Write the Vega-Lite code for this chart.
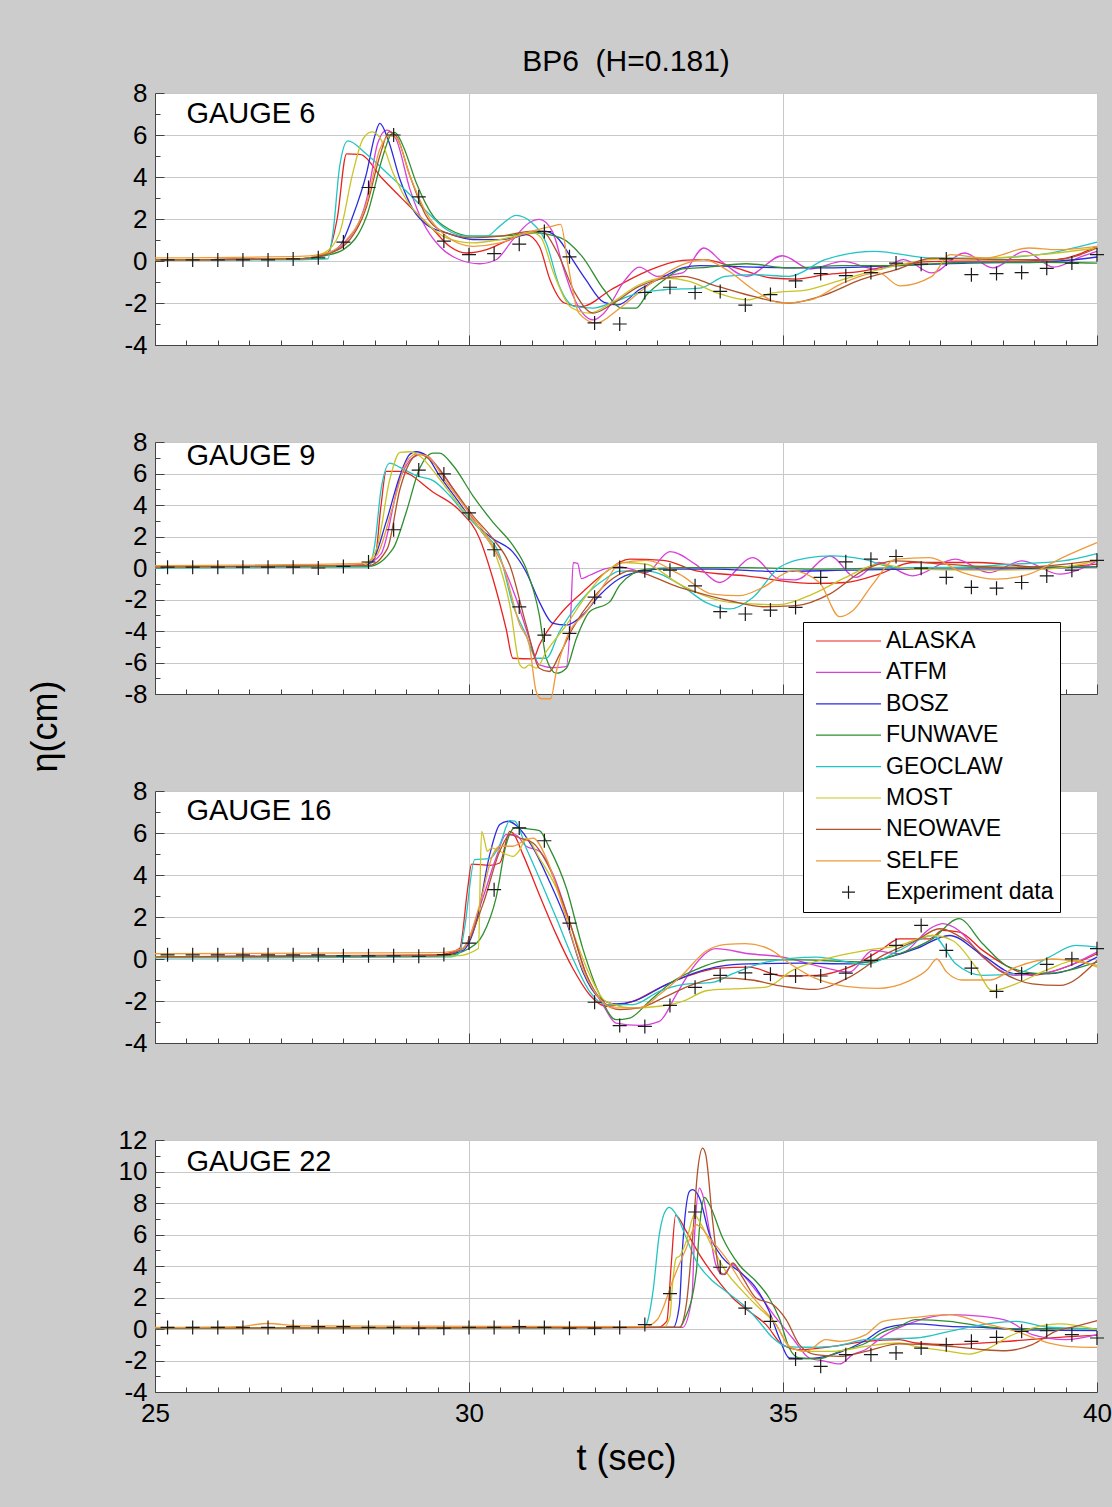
{
"$schema":"https://vega.github.io/schema/vega-lite/v6.json",
"background":"#cccccc",
"padding":{"left":27,"top":47,"right":0,"bottom":32},
"data":{"values":[
{"g":6,"m":"ALASKA","t":25,"v":0.05},{"g":6,"m":"ALASKA","t":27.3,"v":0.1},{"g":6,"m":"ALASKA","t":27.75,"v":0.4},{"g":6,"m":"ALASKA","t":27.9,"v":2.0},{"g":6,"m":"ALASKA","t":28.05,"v":5.1},{"g":6,"m":"ALASKA","t":28.26,"v":5.08},{"g":6,"m":"ALASKA","t":28.63,"v":3.89},{"g":6,"m":"ALASKA","t":29.0,"v":2.77},{"g":6,"m":"ALASKA","t":29.43,"v":1.5},{"g":6,"m":"ALASKA","t":29.69,"v":0.7},{"g":6,"m":"ALASKA","t":29.96,"v":0.38},{"g":6,"m":"ALASKA","t":30.28,"v":0.54},{"g":6,"m":"ALASKA","t":30.59,"v":0.94},{"g":6,"m":"ALASKA","t":30.91,"v":1.26},{"g":6,"m":"ALASKA","t":31.12,"v":0.7},{"g":6,"m":"ALASKA","t":31.29,"v":-0.89},{"g":6,"m":"ALASKA","t":31.52,"v":-2.0},{"g":6,"m":"ALASKA","t":31.8,"v":-2.17},{"g":6,"m":"ALASKA","t":32.26,"v":-1.37},{"g":6,"m":"ALASKA","t":32.83,"v":-0.49},{"g":6,"m":"ALASKA","t":33.4,"v":0.03},{"g":6,"m":"ALASKA","t":33.74,"v":0.07},{"g":6,"m":"ALASKA","t":34.25,"v":-0.33},{"g":6,"m":"ALASKA","t":34.82,"v":-0.81},{"g":6,"m":"ALASKA","t":35.21,"v":-0.86},{"g":6,"m":"ALASKA","t":35.67,"v":-0.65},{"g":6,"m":"ALASKA","t":36.24,"v":-0.49},{"g":6,"m":"ALASKA","t":36.81,"v":-0.17},{"g":6,"m":"ALASKA","t":37.66,"v":-0.01},{"g":6,"m":"ALASKA","t":38.51,"v":-0.01},{"g":6,"m":"ALASKA","t":39.36,"v":0.07},{"g":6,"m":"ALASKA","t":40,"v":0.7},
{"g":6,"m":"ATFM","t":25,"v":0.05},{"g":6,"m":"ATFM","t":27.3,"v":0.1},{"g":6,"m":"ATFM","t":27.8,"v":0.4},{"g":6,"m":"ATFM","t":28.0,"v":0.8},{"g":6,"m":"ATFM","t":28.37,"v":2.93},{"g":6,"m":"ATFM","t":28.55,"v":5.64},{"g":6,"m":"ATFM","t":28.69,"v":6.23},{"g":6,"m":"ATFM","t":28.84,"v":5.8},{"g":6,"m":"ATFM","t":29.06,"v":3.41},{"g":6,"m":"ATFM","t":29.27,"v":1.82},{"g":6,"m":"ATFM","t":29.53,"v":0.7},{"g":6,"m":"ATFM","t":29.85,"v":0.06},{"g":6,"m":"ATFM","t":30.17,"v":-0.13},{"g":6,"m":"ATFM","t":30.43,"v":0.06},{"g":6,"m":"ATFM","t":30.7,"v":1.02},{"g":6,"m":"ATFM","t":30.96,"v":1.82},{"g":6,"m":"ATFM","t":31.12,"v":1.98},{"g":6,"m":"ATFM","t":31.33,"v":1.4},{"g":6,"m":"ATFM","t":31.5,"v":-0.3},{"g":6,"m":"ATFM","t":31.64,"v":-1.53},{"g":6,"m":"ATFM","t":31.98,"v":-2.8},{"g":6,"m":"ATFM","t":32.15,"v":-2.48},{"g":6,"m":"ATFM","t":32.49,"v":-0.89},{"g":6,"m":"ATFM","t":32.71,"v":-0.29},{"g":6,"m":"ATFM","t":33.0,"v":-0.73},{"g":6,"m":"ATFM","t":33.4,"v":-0.57},{"g":6,"m":"ATFM","t":33.74,"v":0.62},{"g":6,"m":"ATFM","t":34.02,"v":-0.02},{"g":6,"m":"ATFM","t":34.42,"v":-0.73},{"g":6,"m":"ATFM","t":34.99,"v":0.25},{"g":6,"m":"ATFM","t":35.44,"v":-0.38},{"g":6,"m":"ATFM","t":35.95,"v":-0.02},{"g":6,"m":"ATFM","t":36.52,"v":-0.41},{"g":6,"m":"ATFM","t":36.92,"v":0.07},{"g":6,"m":"ATFM","t":37.37,"v":-0.57},{"g":6,"m":"ATFM","t":37.89,"v":0.38},{"g":6,"m":"ATFM","t":38.34,"v":-0.33},{"g":6,"m":"ATFM","t":38.85,"v":0.46},{"g":6,"m":"ATFM","t":39.31,"v":-0.29},{"g":6,"m":"ATFM","t":39.76,"v":0.22},{"g":6,"m":"ATFM","t":40,"v":0.46},
{"g":6,"m":"BOSZ","t":25,"v":0.05},{"g":6,"m":"BOSZ","t":27.3,"v":0.1},{"g":6,"m":"BOSZ","t":27.7,"v":0.3},{"g":6,"m":"BOSZ","t":27.94,"v":0.7},{"g":6,"m":"BOSZ","t":28.15,"v":2.14},{"g":6,"m":"BOSZ","t":28.37,"v":4.2},{"g":6,"m":"BOSZ","t":28.5,"v":5.96},{"g":6,"m":"BOSZ","t":28.58,"v":6.55},{"g":6,"m":"BOSZ","t":28.71,"v":5.8},{"g":6,"m":"BOSZ","t":28.9,"v":3.89},{"g":6,"m":"BOSZ","t":29.11,"v":2.45},{"g":6,"m":"BOSZ","t":29.32,"v":1.74},{"g":6,"m":"BOSZ","t":29.64,"v":1.34},{"g":6,"m":"BOSZ","t":30.06,"v":1.02},{"g":6,"m":"BOSZ","t":30.49,"v":1.02},{"g":6,"m":"BOSZ","t":31.02,"v":1.34},{"g":6,"m":"BOSZ","t":31.2,"v":1.42},{"g":6,"m":"BOSZ","t":31.44,"v":1.0},{"g":6,"m":"BOSZ","t":31.58,"v":0.38},{"g":6,"m":"BOSZ","t":31.86,"v":-0.89},{"g":6,"m":"BOSZ","t":32.15,"v":-1.97},{"g":6,"m":"BOSZ","t":32.37,"v":-2.09},{"g":6,"m":"BOSZ","t":32.71,"v":-1.37},{"g":6,"m":"BOSZ","t":33.11,"v":-0.73},{"g":6,"m":"BOSZ","t":33.4,"v":-0.33},{"g":6,"m":"BOSZ","t":33.68,"v":-0.22},{"g":6,"m":"BOSZ","t":34.53,"v":-0.29},{"g":6,"m":"BOSZ","t":35.39,"v":-0.33},{"g":6,"m":"BOSZ","t":36.24,"v":-0.29},{"g":6,"m":"BOSZ","t":36.81,"v":-0.22},{"g":6,"m":"BOSZ","t":37.94,"v":-0.1},{"g":6,"m":"BOSZ","t":39.08,"v":-0.06},{"g":6,"m":"BOSZ","t":40,"v":0.19},
{"g":6,"m":"FUNWAVE","t":25,"v":0.05},{"g":6,"m":"FUNWAVE","t":27.3,"v":0.1},{"g":6,"m":"FUNWAVE","t":27.7,"v":0.25},{"g":6,"m":"FUNWAVE","t":28.0,"v":0.54},{"g":6,"m":"FUNWAVE","t":28.37,"v":2.14},{"g":6,"m":"FUNWAVE","t":28.63,"v":5.0},{"g":6,"m":"FUNWAVE","t":28.76,"v":6.04},{"g":6,"m":"FUNWAVE","t":28.82,"v":6.12},{"g":6,"m":"FUNWAVE","t":28.95,"v":5.48},{"g":6,"m":"FUNWAVE","t":29.16,"v":3.73},{"g":6,"m":"FUNWAVE","t":29.43,"v":2.14},{"g":6,"m":"FUNWAVE","t":29.69,"v":1.5},{"g":6,"m":"FUNWAVE","t":30.06,"v":1.18},{"g":6,"m":"FUNWAVE","t":30.49,"v":1.18},{"g":6,"m":"FUNWAVE","t":31.02,"v":1.34},{"g":6,"m":"FUNWAVE","t":31.46,"v":1.1},{"g":6,"m":"FUNWAVE","t":31.8,"v":0.22},{"g":6,"m":"FUNWAVE","t":32.15,"v":-1.37},{"g":6,"m":"FUNWAVE","t":32.43,"v":-2.24},{"g":6,"m":"FUNWAVE","t":32.66,"v":-2.24},{"g":6,"m":"FUNWAVE","t":32.83,"v":-1.61},{"g":6,"m":"FUNWAVE","t":33.11,"v":-0.89},{"g":6,"m":"FUNWAVE","t":33.4,"v":-0.38},{"g":6,"m":"FUNWAVE","t":33.79,"v":-0.3},{"g":6,"m":"FUNWAVE","t":34.42,"v":-0.13},{"g":6,"m":"FUNWAVE","t":35.1,"v":-0.33},{"g":6,"m":"FUNWAVE","t":35.95,"v":-0.22},{"g":6,"m":"FUNWAVE","t":36.81,"v":-0.22},{"g":6,"m":"FUNWAVE","t":37.94,"v":-0.06},{"g":6,"m":"FUNWAVE","t":39.08,"v":-0.06},{"g":6,"m":"FUNWAVE","t":40,"v":-0.1},
{"g":6,"m":"GEOCLAW","t":25,"v":0.05},{"g":6,"m":"GEOCLAW","t":27.3,"v":0.06},{"g":6,"m":"GEOCLAW","t":27.75,"v":0.1},{"g":6,"m":"GEOCLAW","t":27.84,"v":1.5},{"g":6,"m":"GEOCLAW","t":27.94,"v":4.5},{"g":6,"m":"GEOCLAW","t":28.07,"v":5.72},{"g":6,"m":"GEOCLAW","t":28.37,"v":5.08},{"g":6,"m":"GEOCLAW","t":28.69,"v":4.2},{"g":6,"m":"GEOCLAW","t":29.0,"v":3.33},{"g":6,"m":"GEOCLAW","t":29.32,"v":2.37},{"g":6,"m":"GEOCLAW","t":29.64,"v":1.5},{"g":6,"m":"GEOCLAW","t":29.96,"v":1.18},{"g":6,"m":"GEOCLAW","t":30.28,"v":1.18},{"g":6,"m":"GEOCLAW","t":30.49,"v":1.66},{"g":6,"m":"GEOCLAW","t":30.75,"v":2.17},{"g":6,"m":"GEOCLAW","t":31.0,"v":1.82},{"g":6,"m":"GEOCLAW","t":31.23,"v":0.86},{"g":6,"m":"GEOCLAW","t":31.44,"v":-1.2},{"g":6,"m":"GEOCLAW","t":31.69,"v":-2.17},{"g":6,"m":"GEOCLAW","t":31.98,"v":-2.24},{"g":6,"m":"GEOCLAW","t":32.26,"v":-2.0},{"g":6,"m":"GEOCLAW","t":32.7,"v":-1.53},{"g":6,"m":"GEOCLAW","t":33.11,"v":-1.37},{"g":6,"m":"GEOCLAW","t":33.68,"v":-1.29},{"g":6,"m":"GEOCLAW","t":34.08,"v":-0.73},{"g":6,"m":"GEOCLAW","t":34.53,"v":-0.65},{"g":6,"m":"GEOCLAW","t":35.1,"v":-0.73},{"g":6,"m":"GEOCLAW","t":35.67,"v":0.06},{"g":6,"m":"GEOCLAW","t":36.46,"v":0.46},{"g":6,"m":"GEOCLAW","t":37.37,"v":0.14},{"g":6,"m":"GEOCLAW","t":38.23,"v":0.14},{"g":6,"m":"GEOCLAW","t":39.08,"v":0.3},{"g":6,"m":"GEOCLAW","t":40,"v":0.9},
{"g":6,"m":"MOST","t":25,"v":0.05},{"g":6,"m":"MOST","t":27.3,"v":0.1},{"g":6,"m":"MOST","t":27.7,"v":0.4},{"g":6,"m":"MOST","t":27.94,"v":1.34},{"g":6,"m":"MOST","t":28.15,"v":4.2},{"g":6,"m":"MOST","t":28.31,"v":5.8},{"g":6,"m":"MOST","t":28.45,"v":6.15},{"g":6,"m":"MOST","t":28.58,"v":5.88},{"g":6,"m":"MOST","t":28.79,"v":4.2},{"g":6,"m":"MOST","t":29.0,"v":2.93},{"g":6,"m":"MOST","t":29.32,"v":1.82},{"g":6,"m":"MOST","t":29.64,"v":1.1},{"g":6,"m":"MOST","t":30.06,"v":0.86},{"g":6,"m":"MOST","t":30.49,"v":1.02},{"g":6,"m":"MOST","t":31.02,"v":1.34},{"g":6,"m":"MOST","t":31.15,"v":1.1},{"g":6,"m":"MOST","t":31.35,"v":-0.6},{"g":6,"m":"MOST","t":31.64,"v":-2.24},{"g":6,"m":"MOST","t":31.92,"v":-2.48},{"g":6,"m":"MOST","t":32.26,"v":-2.0},{"g":6,"m":"MOST","t":32.71,"v":-1.13},{"g":6,"m":"MOST","t":33.11,"v":-0.81},{"g":6,"m":"MOST","t":33.51,"v":-0.97},{"g":6,"m":"MOST","t":33.96,"v":-1.53},{"g":6,"m":"MOST","t":34.42,"v":-1.85},{"g":6,"m":"MOST","t":34.82,"v":-1.53},{"g":6,"m":"MOST","t":35.39,"v":-1.37},{"g":6,"m":"MOST","t":35.95,"v":-0.89},{"g":6,"m":"MOST","t":36.52,"v":-0.41},{"g":6,"m":"MOST","t":37.37,"v":0.07},{"g":6,"m":"MOST","t":38.23,"v":0.14},{"g":6,"m":"MOST","t":39.08,"v":0.3},{"g":6,"m":"MOST","t":40,"v":0.62},
{"g":6,"m":"NEOWAVE","t":25,"v":0.05},{"g":6,"m":"NEOWAVE","t":27.3,"v":0.1},{"g":6,"m":"NEOWAVE","t":27.7,"v":0.3},{"g":6,"m":"NEOWAVE","t":28.0,"v":0.7},{"g":6,"m":"NEOWAVE","t":28.37,"v":2.61},{"g":6,"m":"NEOWAVE","t":28.58,"v":5.0},{"g":6,"m":"NEOWAVE","t":28.73,"v":6.15},{"g":6,"m":"NEOWAVE","t":28.84,"v":5.96},{"g":6,"m":"NEOWAVE","t":29.06,"v":4.05},{"g":6,"m":"NEOWAVE","t":29.32,"v":2.14},{"g":6,"m":"NEOWAVE","t":29.64,"v":1.34},{"g":6,"m":"NEOWAVE","t":30.06,"v":1.1},{"g":6,"m":"NEOWAVE","t":30.49,"v":1.18},{"g":6,"m":"NEOWAVE","t":31.02,"v":1.42},{"g":6,"m":"NEOWAVE","t":31.15,"v":1.42},{"g":6,"m":"NEOWAVE","t":31.41,"v":0.38},{"g":6,"m":"NEOWAVE","t":31.69,"v":-1.53},{"g":6,"m":"NEOWAVE","t":31.98,"v":-2.48},{"g":6,"m":"NEOWAVE","t":32.26,"v":-2.09},{"g":6,"m":"NEOWAVE","t":32.71,"v":-1.21},{"g":6,"m":"NEOWAVE","t":33.4,"v":-0.73},{"g":6,"m":"NEOWAVE","t":33.96,"v":-1.21},{"g":6,"m":"NEOWAVE","t":34.53,"v":-1.69},{"g":6,"m":"NEOWAVE","t":35.1,"v":-2.0},{"g":6,"m":"NEOWAVE","t":35.67,"v":-1.61},{"g":6,"m":"NEOWAVE","t":36.24,"v":-0.89},{"g":6,"m":"NEOWAVE","t":36.81,"v":-0.41},{"g":6,"m":"NEOWAVE","t":37.37,"v":0.14},{"g":6,"m":"NEOWAVE","t":38.51,"v":0.07},{"g":6,"m":"NEOWAVE","t":39.36,"v":0.07},{"g":6,"m":"NEOWAVE","t":40,"v":0.62},
{"g":6,"m":"SELFE","t":25,"v":0.15},{"g":6,"m":"SELFE","t":27.3,"v":0.22},{"g":6,"m":"SELFE","t":27.7,"v":0.35},{"g":6,"m":"SELFE","t":28.0,"v":0.86},{"g":6,"m":"SELFE","t":28.37,"v":2.77},{"g":6,"m":"SELFE","t":28.58,"v":5.32},{"g":6,"m":"SELFE","t":28.74,"v":5.96},{"g":6,"m":"SELFE","t":28.84,"v":5.88},{"g":6,"m":"SELFE","t":29.06,"v":4.05},{"g":6,"m":"SELFE","t":29.32,"v":2.3},{"g":6,"m":"SELFE","t":29.64,"v":1.18},{"g":6,"m":"SELFE","t":30.06,"v":0.7},{"g":6,"m":"SELFE","t":30.49,"v":0.86},{"g":6,"m":"SELFE","t":30.91,"v":1.34},{"g":6,"m":"SELFE","t":31.33,"v":1.66},{"g":6,"m":"SELFE","t":31.46,"v":1.74},{"g":6,"m":"SELFE","t":31.58,"v":-0.25},{"g":6,"m":"SELFE","t":31.75,"v":-2.48},{"g":6,"m":"SELFE","t":32.03,"v":-2.96},{"g":6,"m":"SELFE","t":32.37,"v":-2.32},{"g":6,"m":"SELFE","t":32.83,"v":-1.21},{"g":6,"m":"SELFE","t":33.4,"v":-0.17},{"g":6,"m":"SELFE","t":33.74,"v":0.07},{"g":6,"m":"SELFE","t":34.14,"v":-0.49},{"g":6,"m":"SELFE","t":34.53,"v":-1.37},{"g":6,"m":"SELFE","t":34.99,"v":-2.0},{"g":6,"m":"SELFE","t":35.44,"v":-1.85},{"g":6,"m":"SELFE","t":35.95,"v":-1.05},{"g":6,"m":"SELFE","t":36.52,"v":-0.57},{"g":6,"m":"SELFE","t":36.86,"v":-1.18},{"g":6,"m":"SELFE","t":37.37,"v":-0.73},{"g":6,"m":"SELFE","t":37.66,"v":0.3},{"g":6,"m":"SELFE","t":38.23,"v":0.14},{"g":6,"m":"SELFE","t":38.91,"v":0.62},{"g":6,"m":"SELFE","t":39.36,"v":0.54},{"g":6,"m":"SELFE","t":40,"v":0.7},
{"g":6,"m":"Experiment data","t":25.2,"v":0.05},{"g":6,"m":"Experiment data","t":25.6,"v":0.05},{"g":6,"m":"Experiment data","t":26.0,"v":0.05},{"g":6,"m":"Experiment data","t":26.4,"v":0.05},{"g":6,"m":"Experiment data","t":26.8,"v":0.05},{"g":6,"m":"Experiment data","t":27.2,"v":0.1},{"g":6,"m":"Experiment data","t":27.6,"v":0.15},{"g":6,"m":"Experiment data","t":28.0,"v":0.9},{"g":6,"m":"Experiment data","t":28.4,"v":3.5},{"g":6,"m":"Experiment data","t":28.8,"v":6.0},{"g":6,"m":"Experiment data","t":29.2,"v":3.05},{"g":6,"m":"Experiment data","t":29.6,"v":0.95},{"g":6,"m":"Experiment data","t":30.0,"v":0.3},{"g":6,"m":"Experiment data","t":30.4,"v":0.35},{"g":6,"m":"Experiment data","t":30.8,"v":0.8},{"g":6,"m":"Experiment data","t":31.2,"v":1.4},{"g":6,"m":"Experiment data","t":31.6,"v":0.2},{"g":6,"m":"Experiment data","t":32.0,"v":-2.95},{"g":6,"m":"Experiment data","t":32.4,"v":-3.0},{"g":6,"m":"Experiment data","t":32.8,"v":-1.5},{"g":6,"m":"Experiment data","t":33.2,"v":-1.25},{"g":6,"m":"Experiment data","t":33.6,"v":-1.5},{"g":6,"m":"Experiment data","t":34.0,"v":-1.45},{"g":6,"m":"Experiment data","t":34.4,"v":-2.1},{"g":6,"m":"Experiment data","t":34.8,"v":-1.6},{"g":6,"m":"Experiment data","t":35.2,"v":-0.95},{"g":6,"m":"Experiment data","t":35.6,"v":-0.6},{"g":6,"m":"Experiment data","t":36.0,"v":-0.7},{"g":6,"m":"Experiment data","t":36.4,"v":-0.55},{"g":6,"m":"Experiment data","t":36.8,"v":-0.1},{"g":6,"m":"Experiment data","t":37.2,"v":-0.15},{"g":6,"m":"Experiment data","t":37.6,"v":0.1},{"g":6,"m":"Experiment data","t":38.0,"v":-0.65},{"g":6,"m":"Experiment data","t":38.4,"v":-0.6},{"g":6,"m":"Experiment data","t":38.8,"v":-0.55},{"g":6,"m":"Experiment data","t":39.2,"v":-0.35},{"g":6,"m":"Experiment data","t":39.6,"v":-0.1},{"g":6,"m":"Experiment data","t":40.0,"v":0.3},

{"g":9,"m":"ALASKA","t":25,"v":0.05},{"g":9,"m":"ALASKA","t":28.3,"v":0.2},{"g":9,"m":"ALASKA","t":28.5,"v":0.6},{"g":9,"m":"ALASKA","t":28.6,"v":4.0},{"g":9,"m":"ALASKA","t":28.68,"v":6.14},{"g":9,"m":"ALASKA","t":28.9,"v":6.14},{"g":9,"m":"ALASKA","t":29.43,"v":4.81},{"g":9,"m":"ALASKA","t":29.85,"v":3.65},{"g":9,"m":"ALASKA","t":30.17,"v":1.86},{"g":9,"m":"ALASKA","t":30.38,"v":-0.67},{"g":9,"m":"ALASKA","t":30.59,"v":-3.84},{"g":9,"m":"ALASKA","t":30.7,"v":-5.73},{"g":9,"m":"ALASKA","t":31.02,"v":-5.77},{"g":9,"m":"ALASKA","t":31.12,"v":-4.89},{"g":9,"m":"ALASKA","t":31.44,"v":-2.99},{"g":9,"m":"ALASKA","t":31.81,"v":-1.52},{"g":9,"m":"ALASKA","t":32.18,"v":-0.25},{"g":9,"m":"ALASKA","t":32.56,"v":0.56},{"g":9,"m":"ALASKA","t":33.09,"v":0.49},{"g":9,"m":"ALASKA","t":33.62,"v":-0.18},{"g":9,"m":"ALASKA","t":34.41,"v":-0.5},{"g":9,"m":"ALASKA","t":35.47,"v":-0.98},{"g":9,"m":"ALASKA","t":36.0,"v":-0.92},{"g":9,"m":"ALASKA","t":36.53,"v":-0.39},{"g":9,"m":"ALASKA","t":37.06,"v":0.35},{"g":9,"m":"ALASKA","t":38.12,"v":0.35},{"g":9,"m":"ALASKA","t":39.18,"v":0.03},{"g":9,"m":"ALASKA","t":40,"v":0.24},
{"g":9,"m":"ATFM","t":25,"v":0.05},{"g":9,"m":"ATFM","t":28.3,"v":0.15},{"g":9,"m":"ATFM","t":28.6,"v":0.9},{"g":9,"m":"ATFM","t":28.9,"v":5.65},{"g":9,"m":"ATFM","t":29.1,"v":7.0},{"g":9,"m":"ATFM","t":29.27,"v":7.23},{"g":9,"m":"ATFM","t":29.53,"v":6.28},{"g":9,"m":"ATFM","t":29.85,"v":4.39},{"g":9,"m":"ATFM","t":30.17,"v":2.49},{"g":9,"m":"ATFM","t":30.49,"v":0.59},{"g":9,"m":"ATFM","t":30.75,"v":-1.94},{"g":9,"m":"ATFM","t":30.96,"v":-4.47},{"g":9,"m":"ATFM","t":31.12,"v":-6.15},{"g":9,"m":"ATFM","t":31.34,"v":-6.32},{"g":9,"m":"ATFM","t":31.55,"v":-6.26},{"g":9,"m":"ATFM","t":31.62,"v":-3.0},{"g":9,"m":"ATFM","t":31.66,"v":0.34},{"g":9,"m":"ATFM","t":31.73,"v":0.3},{"g":9,"m":"ATFM","t":31.79,"v":-0.67},{"g":9,"m":"ATFM","t":31.92,"v":-0.46},{"g":9,"m":"ATFM","t":32.18,"v":-0.04},{"g":9,"m":"ATFM","t":32.4,"v":0.07},{"g":9,"m":"ATFM","t":32.82,"v":-0.29},{"g":9,"m":"ATFM","t":33.2,"v":1.04},{"g":9,"m":"ATFM","t":33.62,"v":0.2},{"g":9,"m":"ATFM","t":33.99,"v":-0.92},{"g":9,"m":"ATFM","t":34.52,"v":0.66},{"g":9,"m":"ATFM","t":34.94,"v":-0.71},{"g":9,"m":"ATFM","t":35.2,"v":-0.75},{"g":9,"m":"ATFM","t":35.75,"v":0.75},{"g":9,"m":"ATFM","t":36.16,"v":-0.6},{"g":9,"m":"ATFM","t":36.53,"v":0.35},{"g":9,"m":"ATFM","t":37.06,"v":-0.5},{"g":9,"m":"ATFM","t":37.75,"v":0.56},{"g":9,"m":"ATFM","t":38.28,"v":-0.29},{"g":9,"m":"ATFM","t":38.81,"v":0.45},{"g":9,"m":"ATFM","t":39.4,"v":-0.39},{"g":9,"m":"ATFM","t":40,"v":0.45},
{"g":9,"m":"BOSZ","t":25,"v":0.05},{"g":9,"m":"BOSZ","t":28.3,"v":0.15},{"g":9,"m":"BOSZ","t":28.45,"v":0.38},{"g":9,"m":"BOSZ","t":28.68,"v":2.91},{"g":9,"m":"BOSZ","t":28.9,"v":5.86},{"g":9,"m":"BOSZ","t":29.06,"v":7.23},{"g":9,"m":"BOSZ","t":29.16,"v":7.38},{"g":9,"m":"BOSZ","t":29.32,"v":7.13},{"g":9,"m":"BOSZ","t":29.53,"v":5.86},{"g":9,"m":"BOSZ","t":29.8,"v":4.39},{"g":9,"m":"BOSZ","t":30.12,"v":2.7},{"g":9,"m":"BOSZ","t":30.38,"v":1.86},{"g":9,"m":"BOSZ","t":30.7,"v":1.01},{"g":9,"m":"BOSZ","t":30.91,"v":-0.25},{"g":9,"m":"BOSZ","t":31.12,"v":-2.15},{"g":9,"m":"BOSZ","t":31.34,"v":-3.52},{"g":9,"m":"BOSZ","t":31.55,"v":-3.62},{"g":9,"m":"BOSZ","t":31.81,"v":-2.99},{"g":9,"m":"BOSZ","t":32.08,"v":-1.73},{"g":9,"m":"BOSZ","t":32.4,"v":-0.67},{"g":9,"m":"BOSZ","t":32.56,"v":-0.39},{"g":9,"m":"BOSZ","t":33.09,"v":-0.07},{"g":9,"m":"BOSZ","t":33.88,"v":-0.07},{"g":9,"m":"BOSZ","t":34.94,"v":-0.22},{"g":9,"m":"BOSZ","t":36.0,"v":-0.14},{"g":9,"m":"BOSZ","t":37.06,"v":-0.07},{"g":9,"m":"BOSZ","t":38.12,"v":-0.07},{"g":9,"m":"BOSZ","t":40,"v":0.07},
{"g":9,"m":"FUNWAVE","t":25,"v":0.05},{"g":9,"m":"FUNWAVE","t":28.4,"v":0.1},{"g":9,"m":"FUNWAVE","t":28.79,"v":1.23},{"g":9,"m":"FUNWAVE","t":29.0,"v":3.54},{"g":9,"m":"FUNWAVE","t":29.21,"v":6.28},{"g":9,"m":"FUNWAVE","t":29.43,"v":7.3},{"g":9,"m":"FUNWAVE","t":29.53,"v":7.3},{"g":9,"m":"FUNWAVE","t":29.75,"v":6.49},{"g":9,"m":"FUNWAVE","t":30.06,"v":4.6},{"g":9,"m":"FUNWAVE","t":30.38,"v":2.91},{"g":9,"m":"FUNWAVE","t":30.7,"v":1.43},{"g":9,"m":"FUNWAVE","t":30.91,"v":-0.04},{"g":9,"m":"FUNWAVE","t":31.12,"v":-2.99},{"g":9,"m":"FUNWAVE","t":31.23,"v":-5.73},{"g":9,"m":"FUNWAVE","t":31.39,"v":-6.68},{"g":9,"m":"FUNWAVE","t":31.55,"v":-6.36},{"g":9,"m":"FUNWAVE","t":31.71,"v":-4.47},{"g":9,"m":"FUNWAVE","t":31.92,"v":-2.78},{"g":9,"m":"FUNWAVE","t":32.24,"v":-2.15},{"g":9,"m":"FUNWAVE","t":32.4,"v":-1.09},{"g":9,"m":"FUNWAVE","t":32.82,"v":-0.07},{"g":9,"m":"FUNWAVE","t":33.35,"v":0.03},{"g":9,"m":"FUNWAVE","t":34.41,"v":0.03},{"g":9,"m":"FUNWAVE","t":35.47,"v":-0.07},{"g":9,"m":"FUNWAVE","t":37.0,"v":0.03},{"g":9,"m":"FUNWAVE","t":40,"v":0.07},
{"g":9,"m":"GEOCLAW","t":25,"v":0.0},{"g":9,"m":"GEOCLAW","t":28.4,"v":0.05},{"g":9,"m":"GEOCLAW","t":28.5,"v":1.5},{"g":9,"m":"GEOCLAW","t":28.6,"v":5.0},{"g":9,"m":"GEOCLAW","t":28.74,"v":6.66},{"g":9,"m":"GEOCLAW","t":28.9,"v":6.39},{"g":9,"m":"GEOCLAW","t":29.16,"v":5.86},{"g":9,"m":"GEOCLAW","t":29.43,"v":5.55},{"g":9,"m":"GEOCLAW","t":29.69,"v":4.6},{"g":9,"m":"GEOCLAW","t":29.96,"v":3.33},{"g":9,"m":"GEOCLAW","t":30.22,"v":2.28},{"g":9,"m":"GEOCLAW","t":30.49,"v":0.8},{"g":9,"m":"GEOCLAW","t":30.7,"v":-2.36},{"g":9,"m":"GEOCLAW","t":30.91,"v":-4.26},{"g":9,"m":"GEOCLAW","t":31.07,"v":-5.73},{"g":9,"m":"GEOCLAW","t":31.23,"v":-5.73},{"g":9,"m":"GEOCLAW","t":31.44,"v":-4.05},{"g":9,"m":"GEOCLAW","t":31.81,"v":-1.94},{"g":9,"m":"GEOCLAW","t":32.18,"v":-0.67},{"g":9,"m":"GEOCLAW","t":32.4,"v":-0.2},{"g":9,"m":"GEOCLAW","t":32.82,"v":-0.18},{"g":9,"m":"GEOCLAW","t":33.35,"v":-1.02},{"g":9,"m":"GEOCLAW","t":33.77,"v":-2.18},{"g":9,"m":"GEOCLAW","t":34.15,"v":-2.6},{"g":9,"m":"GEOCLAW","t":34.52,"v":-1.87},{"g":9,"m":"GEOCLAW","t":34.94,"v":0.03},{"g":9,"m":"GEOCLAW","t":35.37,"v":0.62},{"g":9,"m":"GEOCLAW","t":35.79,"v":0.77},{"g":9,"m":"GEOCLAW","t":36.27,"v":0.56},{"g":9,"m":"GEOCLAW","t":36.8,"v":0.03},{"g":9,"m":"GEOCLAW","t":37.59,"v":0.03},{"g":9,"m":"GEOCLAW","t":38.65,"v":0.24},{"g":9,"m":"GEOCLAW","t":39.45,"v":0.45},{"g":9,"m":"GEOCLAW","t":40,"v":0.92},
{"g":9,"m":"MOST","t":25,"v":0.05},{"g":9,"m":"MOST","t":28.3,"v":0.15},{"g":9,"m":"MOST","t":28.53,"v":1.23},{"g":9,"m":"MOST","t":28.74,"v":5.65},{"g":9,"m":"MOST","t":28.9,"v":7.34},{"g":9,"m":"MOST","t":29.06,"v":7.38},{"g":9,"m":"MOST","t":29.21,"v":7.13},{"g":9,"m":"MOST","t":29.53,"v":5.65},{"g":9,"m":"MOST","t":29.85,"v":3.96},{"g":9,"m":"MOST","t":30.17,"v":2.49},{"g":9,"m":"MOST","t":30.43,"v":0.8},{"g":9,"m":"MOST","t":30.65,"v":-2.36},{"g":9,"m":"MOST","t":30.81,"v":-6.15},{"g":9,"m":"MOST","t":30.88,"v":-6.36},{"g":9,"m":"MOST","t":30.96,"v":-6.15},{"g":9,"m":"MOST","t":31.07,"v":-6.36},{"g":9,"m":"MOST","t":31.23,"v":-5.31},{"g":9,"m":"MOST","t":31.55,"v":-3.62},{"g":9,"m":"MOST","t":31.87,"v":-1.73},{"g":9,"m":"MOST","t":32.18,"v":-0.25},{"g":9,"m":"MOST","t":32.45,"v":0.35},{"g":9,"m":"MOST","t":32.82,"v":0.24},{"g":9,"m":"MOST","t":33.35,"v":-1.02},{"g":9,"m":"MOST","t":34.15,"v":-2.18},{"g":9,"m":"MOST","t":34.94,"v":-2.33},{"g":9,"m":"MOST","t":35.47,"v":-1.66},{"g":9,"m":"MOST","t":36.0,"v":-0.6},{"g":9,"m":"MOST","t":36.53,"v":0.24},{"g":9,"m":"MOST","t":37.06,"v":-0.07},{"g":9,"m":"MOST","t":38.12,"v":-0.14},{"g":9,"m":"MOST","t":39.18,"v":-0.07},{"g":9,"m":"MOST","t":40,"v":0.45},
{"g":9,"m":"NEOWAVE","t":25,"v":0.05},{"g":9,"m":"NEOWAVE","t":28.4,"v":0.15},{"g":9,"m":"NEOWAVE","t":28.7,"v":1.23},{"g":9,"m":"NEOWAVE","t":28.9,"v":5.0},{"g":9,"m":"NEOWAVE","t":29.11,"v":7.02},{"g":9,"m":"NEOWAVE","t":29.21,"v":7.23},{"g":9,"m":"NEOWAVE","t":29.43,"v":6.7},{"g":9,"m":"NEOWAVE","t":29.75,"v":5.02},{"g":9,"m":"NEOWAVE","t":30.06,"v":3.33},{"g":9,"m":"NEOWAVE","t":30.38,"v":1.86},{"g":9,"m":"NEOWAVE","t":30.65,"v":0.17},{"g":9,"m":"NEOWAVE","t":30.91,"v":-3.62},{"g":9,"m":"NEOWAVE","t":31.12,"v":-6.36},{"g":9,"m":"NEOWAVE","t":31.28,"v":-6.57},{"g":9,"m":"NEOWAVE","t":31.44,"v":-5.52},{"g":9,"m":"NEOWAVE","t":31.65,"v":-3.84},{"g":9,"m":"NEOWAVE","t":31.97,"v":-1.94},{"g":9,"m":"NEOWAVE","t":32.29,"v":-0.67},{"g":9,"m":"NEOWAVE","t":32.56,"v":-0.18},{"g":9,"m":"NEOWAVE","t":33.35,"v":-1.23},{"g":9,"m":"NEOWAVE","t":34.15,"v":-2.08},{"g":9,"m":"NEOWAVE","t":34.68,"v":-2.46},{"g":9,"m":"NEOWAVE","t":35.21,"v":-2.39},{"g":9,"m":"NEOWAVE","t":35.74,"v":-1.66},{"g":9,"m":"NEOWAVE","t":36.27,"v":-0.18},{"g":9,"m":"NEOWAVE","t":36.8,"v":0.45},{"g":9,"m":"NEOWAVE","t":37.59,"v":0.24},{"g":9,"m":"NEOWAVE","t":38.65,"v":0.03},{"g":9,"m":"NEOWAVE","t":40,"v":0.49},
{"g":9,"m":"SELFE","t":25,"v":0.15},{"g":9,"m":"SELFE","t":28.3,"v":0.3},{"g":9,"m":"SELFE","t":28.53,"v":0.8},{"g":9,"m":"SELFE","t":28.79,"v":3.96},{"g":9,"m":"SELFE","t":29.0,"v":6.7},{"g":9,"m":"SELFE","t":29.16,"v":7.23},{"g":9,"m":"SELFE","t":29.32,"v":7.13},{"g":9,"m":"SELFE","t":29.64,"v":5.44},{"g":9,"m":"SELFE","t":29.96,"v":3.75},{"g":9,"m":"SELFE","t":30.28,"v":2.07},{"g":9,"m":"SELFE","t":30.54,"v":0.17},{"g":9,"m":"SELFE","t":30.81,"v":-3.62},{"g":9,"m":"SELFE","t":30.96,"v":-4.89},{"g":9,"m":"SELFE","t":31.07,"v":-7.84},{"g":9,"m":"SELFE","t":31.15,"v":-8.3},{"g":9,"m":"SELFE","t":31.3,"v":-8.3},{"g":9,"m":"SELFE","t":31.39,"v":-6.57},{"g":9,"m":"SELFE","t":31.55,"v":-4.47},{"g":9,"m":"SELFE","t":31.87,"v":-2.78},{"g":9,"m":"SELFE","t":32.18,"v":-0.88},{"g":9,"m":"SELFE","t":32.4,"v":0.3},{"g":9,"m":"SELFE","t":32.82,"v":0.49},{"g":9,"m":"SELFE","t":33.35,"v":-0.39},{"g":9,"m":"SELFE","t":33.88,"v":-1.66},{"g":9,"m":"SELFE","t":34.3,"v":-1.76},{"g":9,"m":"SELFE","t":34.68,"v":-1.23},{"g":9,"m":"SELFE","t":35.15,"v":-0.18},{"g":9,"m":"SELFE","t":35.58,"v":-0.92},{"g":9,"m":"SELFE","t":35.9,"v":-3.09},{"g":9,"m":"SELFE","t":36.11,"v":-2.71},{"g":9,"m":"SELFE","t":36.43,"v":-1.02},{"g":9,"m":"SELFE","t":36.8,"v":0.56},{"g":9,"m":"SELFE","t":37.33,"v":0.66},{"g":9,"m":"SELFE","t":37.86,"v":-0.29},{"g":9,"m":"SELFE","t":38.39,"v":-0.71},{"g":9,"m":"SELFE","t":38.92,"v":-0.39},{"g":9,"m":"SELFE","t":39.45,"v":0.66},{"g":9,"m":"SELFE","t":40,"v":1.61},
{"g":9,"m":"Experiment data","t":25.2,"v":0.05},{"g":9,"m":"Experiment data","t":25.6,"v":0.05},{"g":9,"m":"Experiment data","t":26.0,"v":0.05},{"g":9,"m":"Experiment data","t":26.4,"v":0.05},{"g":9,"m":"Experiment data","t":26.8,"v":0.05},{"g":9,"m":"Experiment data","t":27.2,"v":0.05},{"g":9,"m":"Experiment data","t":27.6,"v":0.0},{"g":9,"m":"Experiment data","t":28.0,"v":0.1},{"g":9,"m":"Experiment data","t":28.4,"v":0.38},{"g":9,"m":"Experiment data","t":28.8,"v":2.43},{"g":9,"m":"Experiment data","t":29.2,"v":6.22},{"g":9,"m":"Experiment data","t":29.6,"v":5.97},{"g":9,"m":"Experiment data","t":30.0,"v":3.5},{"g":9,"m":"Experiment data","t":30.4,"v":1.16},{"g":9,"m":"Experiment data","t":30.8,"v":-2.47},{"g":9,"m":"Experiment data","t":31.2,"v":-4.26},{"g":9,"m":"Experiment data","t":31.6,"v":-4.15},{"g":9,"m":"Experiment data","t":32.0,"v":-1.85},{"g":9,"m":"Experiment data","t":32.4,"v":0.03},{"g":9,"m":"Experiment data","t":32.8,"v":-0.18},{"g":9,"m":"Experiment data","t":33.2,"v":-0.14},{"g":9,"m":"Experiment data","t":33.6,"v":-1.13},{"g":9,"m":"Experiment data","t":34.0,"v":-2.77},{"g":9,"m":"Experiment data","t":34.4,"v":-2.92},{"g":9,"m":"Experiment data","t":34.8,"v":-2.67},{"g":9,"m":"Experiment data","t":35.2,"v":-2.5},{"g":9,"m":"Experiment data","t":35.6,"v":-0.6},{"g":9,"m":"Experiment data","t":36.0,"v":0.39},{"g":9,"m":"Experiment data","t":36.4,"v":0.56},{"g":9,"m":"Experiment data","t":36.8,"v":0.73},{"g":9,"m":"Experiment data","t":37.2,"v":-0.01},{"g":9,"m":"Experiment data","t":37.6,"v":-0.6},{"g":9,"m":"Experiment data","t":38.0,"v":-1.23},{"g":9,"m":"Experiment data","t":38.4,"v":-1.28},{"g":9,"m":"Experiment data","t":38.8,"v":-0.92},{"g":9,"m":"Experiment data","t":39.2,"v":-0.5},{"g":9,"m":"Experiment data","t":39.6,"v":-0.14},{"g":9,"m":"Experiment data","t":40.0,"v":0.49},

{"g":16,"m":"ALASKA","t":25,"v":0.1},{"g":16,"m":"ALASKA","t":29.5,"v":0.2},{"g":16,"m":"ALASKA","t":29.85,"v":0.5},{"g":16,"m":"ALASKA","t":29.98,"v":3.38},{"g":16,"m":"ALASKA","t":30.04,"v":4.52},{"g":16,"m":"ALASKA","t":30.33,"v":4.46},{"g":16,"m":"ALASKA","t":30.49,"v":4.57},{"g":16,"m":"ALASKA","t":30.65,"v":6.08},{"g":16,"m":"ALASKA","t":30.7,"v":6.0},{"g":16,"m":"ALASKA","t":30.86,"v":4.97},{"g":16,"m":"ALASKA","t":31.12,"v":3.06},{"g":16,"m":"ALASKA","t":31.39,"v":1.16},{"g":16,"m":"ALASKA","t":31.65,"v":-0.43},{"g":16,"m":"ALASKA","t":31.92,"v":-1.7},{"g":16,"m":"ALASKA","t":32.18,"v":-2.25},{"g":16,"m":"ALASKA","t":32.61,"v":-2.02},{"g":16,"m":"ALASKA","t":33.03,"v":-1.38},{"g":16,"m":"ALASKA","t":33.4,"v":-0.9},{"g":16,"m":"ALASKA","t":33.99,"v":-0.43},{"g":16,"m":"ALASKA","t":34.46,"v":-0.39},{"g":16,"m":"ALASKA","t":35.0,"v":-0.81},{"g":16,"m":"ALASKA","t":35.53,"v":-0.78},{"g":16,"m":"ALASKA","t":36.06,"v":-0.39},{"g":16,"m":"ALASKA","t":36.59,"v":0.49},{"g":16,"m":"ALASKA","t":36.85,"v":0.96},{"g":16,"m":"ALASKA","t":37.33,"v":0.96},{"g":16,"m":"ALASKA","t":37.54,"v":1.36},{"g":16,"m":"ALASKA","t":37.81,"v":1.28},{"g":16,"m":"ALASKA","t":38.18,"v":0.41},{"g":16,"m":"ALASKA","t":38.55,"v":-0.31},{"g":16,"m":"ALASKA","t":38.97,"v":-0.78},{"g":16,"m":"ALASKA","t":39.5,"v":-0.39},{"g":16,"m":"ALASKA","t":40,"v":0.25},
{"g":16,"m":"ATFM","t":25,"v":0.1},{"g":16,"m":"ATFM","t":29.5,"v":0.15},{"g":16,"m":"ATFM","t":29.9,"v":0.5},{"g":16,"m":"ATFM","t":30.22,"v":2.9},{"g":16,"m":"ATFM","t":30.43,"v":4.81},{"g":16,"m":"ATFM","t":30.59,"v":5.92},{"g":16,"m":"ATFM","t":30.73,"v":5.92},{"g":16,"m":"ATFM","t":30.91,"v":5.37},{"g":16,"m":"ATFM","t":31.12,"v":5.13},{"g":16,"m":"ATFM","t":31.34,"v":4.02},{"g":16,"m":"ATFM","t":31.6,"v":1.79},{"g":16,"m":"ATFM","t":31.87,"v":-0.75},{"g":16,"m":"ATFM","t":32.13,"v":-2.17},{"g":16,"m":"ATFM","t":32.34,"v":-3.05},{"g":16,"m":"ATFM","t":32.71,"v":-3.16},{"g":16,"m":"ATFM","t":33.03,"v":-2.97},{"g":16,"m":"ATFM","t":33.3,"v":-1.7},{"g":16,"m":"ATFM","t":33.56,"v":-0.43},{"g":16,"m":"ATFM","t":33.93,"v":0.49},{"g":16,"m":"ATFM","t":34.46,"v":0.25},{"g":16,"m":"ATFM","t":35.0,"v":0.09},{"g":16,"m":"ATFM","t":35.53,"v":-0.31},{"g":16,"m":"ATFM","t":36.06,"v":-0.62},{"g":16,"m":"ATFM","t":36.43,"v":0.41},{"g":16,"m":"ATFM","t":36.85,"v":0.25},{"g":16,"m":"ATFM","t":37.38,"v":1.52},{"g":16,"m":"ATFM","t":37.54,"v":1.68},{"g":16,"m":"ATFM","t":37.8,"v":1.36},{"g":16,"m":"ATFM","t":38.18,"v":0.09},{"g":16,"m":"ATFM","t":38.71,"v":-0.78},{"g":16,"m":"ATFM","t":39.24,"v":-0.62},{"g":16,"m":"ATFM","t":40,"v":0.33},
{"g":16,"m":"BOSZ","t":25,"v":0.1},{"g":16,"m":"BOSZ","t":29.5,"v":0.15},{"g":16,"m":"BOSZ","t":29.9,"v":0.4},{"g":16,"m":"BOSZ","t":30.12,"v":1.79},{"g":16,"m":"BOSZ","t":30.33,"v":4.97},{"g":16,"m":"BOSZ","t":30.49,"v":6.4},{"g":16,"m":"BOSZ","t":30.62,"v":6.56},{"g":16,"m":"BOSZ","t":30.75,"v":6.37},{"g":16,"m":"BOSZ","t":31.02,"v":5.29},{"g":16,"m":"BOSZ","t":31.28,"v":3.7},{"g":16,"m":"BOSZ","t":31.55,"v":1.79},{"g":16,"m":"BOSZ","t":31.81,"v":-0.59},{"g":16,"m":"BOSZ","t":32.08,"v":-1.86},{"g":16,"m":"BOSZ","t":32.34,"v":-2.14},{"g":16,"m":"BOSZ","t":32.61,"v":-2.02},{"g":16,"m":"BOSZ","t":33.14,"v":-1.22},{"g":16,"m":"BOSZ","t":33.67,"v":-0.59},{"g":16,"m":"BOSZ","t":33.99,"v":-0.35},{"g":16,"m":"BOSZ","t":34.46,"v":-0.23},{"g":16,"m":"BOSZ","t":35.26,"v":-0.2},{"g":16,"m":"BOSZ","t":36.06,"v":-0.23},{"g":16,"m":"BOSZ","t":36.59,"v":0.01},{"g":16,"m":"BOSZ","t":37.12,"v":0.49},{"g":16,"m":"BOSZ","t":37.65,"v":1.12},{"g":16,"m":"BOSZ","t":38.18,"v":0.17},{"g":16,"m":"BOSZ","t":38.71,"v":-0.7},{"g":16,"m":"BOSZ","t":39.24,"v":-0.7},{"g":16,"m":"BOSZ","t":40,"v":0.09},
{"g":16,"m":"FUNWAVE","t":25,"v":0.1},{"g":16,"m":"FUNWAVE","t":29.6,"v":0.15},{"g":16,"m":"FUNWAVE","t":30.0,"v":0.5},{"g":16,"m":"FUNWAVE","t":30.22,"v":1.16},{"g":16,"m":"FUNWAVE","t":30.43,"v":2.9},{"g":16,"m":"FUNWAVE","t":30.59,"v":5.44},{"g":16,"m":"FUNWAVE","t":30.73,"v":6.24},{"g":16,"m":"FUNWAVE","t":30.91,"v":6.21},{"g":16,"m":"FUNWAVE","t":31.12,"v":6.11},{"g":16,"m":"FUNWAVE","t":31.28,"v":5.29},{"g":16,"m":"FUNWAVE","t":31.55,"v":3.38},{"g":16,"m":"FUNWAVE","t":31.81,"v":0.52},{"g":16,"m":"FUNWAVE","t":32.08,"v":-1.7},{"g":16,"m":"FUNWAVE","t":32.34,"v":-2.89},{"g":16,"m":"FUNWAVE","t":32.56,"v":-2.81},{"g":16,"m":"FUNWAVE","t":32.87,"v":-2.02},{"g":16,"m":"FUNWAVE","t":33.25,"v":-1.06},{"g":16,"m":"FUNWAVE","t":33.67,"v":-0.43},{"g":16,"m":"FUNWAVE","t":33.99,"v":-0.11},{"g":16,"m":"FUNWAVE","t":34.2,"v":-0.04},{"g":16,"m":"FUNWAVE","t":35.26,"v":-0.04},{"g":16,"m":"FUNWAVE","t":36.32,"v":-0.15},{"g":16,"m":"FUNWAVE","t":36.85,"v":0.25},{"g":16,"m":"FUNWAVE","t":37.38,"v":0.96},{"g":16,"m":"FUNWAVE","t":37.8,"v":1.92},{"g":16,"m":"FUNWAVE","t":38.18,"v":0.73},{"g":16,"m":"FUNWAVE","t":38.6,"v":-0.39},{"g":16,"m":"FUNWAVE","t":39.13,"v":-0.7},{"g":16,"m":"FUNWAVE","t":40,"v":-0.15},
{"g":16,"m":"GEOCLAW","t":25,"v":0.05},{"g":16,"m":"GEOCLAW","t":29.7,"v":0.1},{"g":16,"m":"GEOCLAW","t":29.85,"v":0.3},{"g":16,"m":"GEOCLAW","t":29.93,"v":1.48},{"g":16,"m":"GEOCLAW","t":30.09,"v":4.73},{"g":16,"m":"GEOCLAW","t":30.33,"v":4.78},{"g":16,"m":"GEOCLAW","t":30.49,"v":5.44},{"g":16,"m":"GEOCLAW","t":30.65,"v":6.59},{"g":16,"m":"GEOCLAW","t":30.73,"v":6.56},{"g":16,"m":"GEOCLAW","t":30.91,"v":5.29},{"g":16,"m":"GEOCLAW","t":31.12,"v":3.86},{"g":16,"m":"GEOCLAW","t":31.39,"v":1.95},{"g":16,"m":"GEOCLAW","t":31.65,"v":0.05},{"g":16,"m":"GEOCLAW","t":31.92,"v":-1.54},{"g":16,"m":"GEOCLAW","t":32.18,"v":-2.17},{"g":16,"m":"GEOCLAW","t":32.61,"v":-2.17},{"g":16,"m":"GEOCLAW","t":33.03,"v":-1.54},{"g":16,"m":"GEOCLAW","t":33.4,"v":-1.22},{"g":16,"m":"GEOCLAW","t":33.9,"v":-1.1},{"g":16,"m":"GEOCLAW","t":34.2,"v":-0.7},{"g":16,"m":"GEOCLAW","t":34.73,"v":-0.15},{"g":16,"m":"GEOCLAW","t":35.53,"v":0.09},{"g":16,"m":"GEOCLAW","t":36.32,"v":-0.26},{"g":16,"m":"GEOCLAW","t":36.85,"v":0.41},{"g":16,"m":"GEOCLAW","t":37.38,"v":1.12},{"g":16,"m":"GEOCLAW","t":37.75,"v":-0.23},{"g":16,"m":"GEOCLAW","t":38.18,"v":-0.78},{"g":16,"m":"GEOCLAW","t":38.71,"v":-0.7},{"g":16,"m":"GEOCLAW","t":39.24,"v":0.09},{"g":16,"m":"GEOCLAW","t":39.66,"v":0.65},{"g":16,"m":"GEOCLAW","t":40,"v":0.57},
{"g":16,"m":"MOST","t":25,"v":0.1},{"g":16,"m":"MOST","t":29.8,"v":0.15},{"g":16,"m":"MOST","t":30.15,"v":0.5},{"g":16,"m":"MOST","t":30.2,"v":6.08},{"g":16,"m":"MOST","t":30.25,"v":5.6},{"g":16,"m":"MOST","t":30.29,"v":5.13},{"g":16,"m":"MOST","t":30.36,"v":5.29},{"g":16,"m":"MOST","t":30.49,"v":5.13},{"g":16,"m":"MOST","t":30.7,"v":4.89},{"g":16,"m":"MOST","t":30.81,"v":5.21},{"g":16,"m":"MOST","t":30.91,"v":5.76},{"g":16,"m":"MOST","t":31.12,"v":4.81},{"g":16,"m":"MOST","t":31.39,"v":3.38},{"g":16,"m":"MOST","t":31.65,"v":1.32},{"g":16,"m":"MOST","t":31.92,"v":-0.75},{"g":16,"m":"MOST","t":32.18,"v":-2.02},{"g":16,"m":"MOST","t":32.61,"v":-2.33},{"g":16,"m":"MOST","t":33.03,"v":-2.25},{"g":16,"m":"MOST","t":33.4,"v":-2.02},{"g":16,"m":"MOST","t":33.8,"v":-1.5},{"g":16,"m":"MOST","t":34.2,"v":-1.42},{"g":16,"m":"MOST","t":34.73,"v":-1.34},{"g":16,"m":"MOST","t":35.15,"v":-0.54},{"g":16,"m":"MOST","t":35.68,"v":0.01},{"g":16,"m":"MOST","t":36.32,"v":0.41},{"g":16,"m":"MOST","t":36.85,"v":0.65},{"g":16,"m":"MOST","t":37.38,"v":1.12},{"g":16,"m":"MOST","t":37.7,"v":0.88},{"g":16,"m":"MOST","t":38.07,"v":-0.39},{"g":16,"m":"MOST","t":38.33,"v":-1.5},{"g":16,"m":"MOST","t":38.71,"v":-1.18},{"g":16,"m":"MOST","t":39.24,"v":-0.47},{"g":16,"m":"MOST","t":39.66,"v":-0.07},{"g":16,"m":"MOST","t":40,"v":-0.39},
{"g":16,"m":"NEOWAVE","t":25,"v":0.1},{"g":16,"m":"NEOWAVE","t":29.5,"v":0.15},{"g":16,"m":"NEOWAVE","t":29.9,"v":0.5},{"g":16,"m":"NEOWAVE","t":30.22,"v":2.59},{"g":16,"m":"NEOWAVE","t":30.49,"v":5.13},{"g":16,"m":"NEOWAVE","t":30.65,"v":5.92},{"g":16,"m":"NEOWAVE","t":30.81,"v":5.76},{"g":16,"m":"NEOWAVE","t":31.02,"v":5.52},{"g":16,"m":"NEOWAVE","t":31.28,"v":4.33},{"g":16,"m":"NEOWAVE","t":31.6,"v":1.79},{"g":16,"m":"NEOWAVE","t":31.87,"v":-0.75},{"g":16,"m":"NEOWAVE","t":32.13,"v":-2.02},{"g":16,"m":"NEOWAVE","t":32.4,"v":-2.41},{"g":16,"m":"NEOWAVE","t":32.71,"v":-2.33},{"g":16,"m":"NEOWAVE","t":33.14,"v":-1.78},{"g":16,"m":"NEOWAVE","t":33.56,"v":-1.22},{"g":16,"m":"NEOWAVE","t":33.99,"v":-0.9},{"g":16,"m":"NEOWAVE","t":34.5,"v":-1.0},{"g":16,"m":"NEOWAVE","t":35.0,"v":-1.3},{"g":16,"m":"NEOWAVE","t":35.5,"v":-1.45},{"g":16,"m":"NEOWAVE","t":36.06,"v":-0.86},{"g":16,"m":"NEOWAVE","t":36.59,"v":0.17},{"g":16,"m":"NEOWAVE","t":37.12,"v":0.88},{"g":16,"m":"NEOWAVE","t":37.49,"v":1.44},{"g":16,"m":"NEOWAVE","t":37.91,"v":0.88},{"g":16,"m":"NEOWAVE","t":38.44,"v":-0.54},{"g":16,"m":"NEOWAVE","t":38.97,"v":-1.18},{"g":16,"m":"NEOWAVE","t":39.4,"v":-1.26},{"g":16,"m":"NEOWAVE","t":40,"v":-0.07},
{"g":16,"m":"SELFE","t":25,"v":0.25},{"g":16,"m":"SELFE","t":29.5,"v":0.3},{"g":16,"m":"SELFE","t":29.9,"v":0.5},{"g":16,"m":"SELFE","t":30.17,"v":2.59},{"g":16,"m":"SELFE","t":30.38,"v":4.97},{"g":16,"m":"SELFE","t":30.49,"v":5.37},{"g":16,"m":"SELFE","t":30.7,"v":5.37},{"g":16,"m":"SELFE","t":30.86,"v":5.6},{"g":16,"m":"SELFE","t":31.02,"v":5.76},{"g":16,"m":"SELFE","t":31.23,"v":4.81},{"g":16,"m":"SELFE","t":31.5,"v":2.43},{"g":16,"m":"SELFE","t":31.76,"v":-0.11},{"g":16,"m":"SELFE","t":32.03,"v":-1.7},{"g":16,"m":"SELFE","t":32.29,"v":-2.33},{"g":16,"m":"SELFE","t":32.71,"v":-2.33},{"g":16,"m":"SELFE","t":33.03,"v":-1.7},{"g":16,"m":"SELFE","t":33.4,"v":-0.75},{"g":16,"m":"SELFE","t":33.77,"v":0.37},{"g":16,"m":"SELFE","t":34.1,"v":0.7},{"g":16,"m":"SELFE","t":34.4,"v":0.73},{"g":16,"m":"SELFE","t":34.8,"v":0.45},{"g":16,"m":"SELFE","t":35.1,"v":-0.2},{"g":16,"m":"SELFE","t":35.5,"v":-0.9},{"g":16,"m":"SELFE","t":36.0,"v":-1.3},{"g":16,"m":"SELFE","t":36.5,"v":-1.4},{"g":16,"m":"SELFE","t":37.0,"v":-1.05},{"g":16,"m":"SELFE","t":37.3,"v":-0.5},{"g":16,"m":"SELFE","t":37.45,"v":0.0},{"g":16,"m":"SELFE","t":37.6,"v":-0.6},{"g":16,"m":"SELFE","t":37.85,"v":-1.0},{"g":16,"m":"SELFE","t":38.3,"v":-1.0},{"g":16,"m":"SELFE","t":38.7,"v":-0.4},{"g":16,"m":"SELFE","t":39.3,"v":0.0},{"g":16,"m":"SELFE","t":40,"v":-0.3},
{"g":16,"m":"Experiment data","t":25.2,"v":0.2},{"g":16,"m":"Experiment data","t":25.6,"v":0.2},{"g":16,"m":"Experiment data","t":26.0,"v":0.2},{"g":16,"m":"Experiment data","t":26.4,"v":0.2},{"g":16,"m":"Experiment data","t":26.8,"v":0.2},{"g":16,"m":"Experiment data","t":27.2,"v":0.2},{"g":16,"m":"Experiment data","t":27.6,"v":0.2},{"g":16,"m":"Experiment data","t":28.0,"v":0.15},{"g":16,"m":"Experiment data","t":28.4,"v":0.15},{"g":16,"m":"Experiment data","t":28.8,"v":0.15},{"g":16,"m":"Experiment data","t":29.2,"v":0.13},{"g":16,"m":"Experiment data","t":29.6,"v":0.21},{"g":16,"m":"Experiment data","t":30.0,"v":0.76},{"g":16,"m":"Experiment data","t":30.4,"v":3.3},{"g":16,"m":"Experiment data","t":30.8,"v":6.24},{"g":16,"m":"Experiment data","t":31.2,"v":5.63},{"g":16,"m":"Experiment data","t":31.6,"v":1.71},{"g":16,"m":"Experiment data","t":32.0,"v":-2.06},{"g":16,"m":"Experiment data","t":32.4,"v":-3.17},{"g":16,"m":"Experiment data","t":32.8,"v":-3.21},{"g":16,"m":"Experiment data","t":33.2,"v":-2.21},{"g":16,"m":"Experiment data","t":33.6,"v":-1.35},{"g":16,"m":"Experiment data","t":34.0,"v":-0.78},{"g":16,"m":"Experiment data","t":34.4,"v":-0.66},{"g":16,"m":"Experiment data","t":34.8,"v":-0.73},{"g":16,"m":"Experiment data","t":35.2,"v":-0.81},{"g":16,"m":"Experiment data","t":35.6,"v":-0.81},{"g":16,"m":"Experiment data","t":36.0,"v":-0.67},{"g":16,"m":"Experiment data","t":36.4,"v":-0.07},{"g":16,"m":"Experiment data","t":36.8,"v":0.65},{"g":16,"m":"Experiment data","t":37.2,"v":1.6},{"g":16,"m":"Experiment data","t":37.6,"v":0.41},{"g":16,"m":"Experiment data","t":38.0,"v":-0.43},{"g":16,"m":"Experiment data","t":38.4,"v":-1.54},{"g":16,"m":"Experiment data","t":38.8,"v":-0.7},{"g":16,"m":"Experiment data","t":39.2,"v":-0.26},{"g":16,"m":"Experiment data","t":39.6,"v":0.01},{"g":16,"m":"Experiment data","t":40.0,"v":0.49},

{"g":22,"m":"ALASKA","t":25,"v":0.05},{"g":22,"m":"ALASKA","t":33.0,"v":0.1},{"g":22,"m":"ALASKA","t":33.15,"v":0.5},{"g":22,"m":"ALASKA","t":33.22,"v":4.08},{"g":22,"m":"ALASKA","t":33.29,"v":7.22},{"g":22,"m":"ALASKA","t":33.46,"v":6.2},{"g":22,"m":"ALASKA","t":33.67,"v":4.72},{"g":22,"m":"ALASKA","t":33.93,"v":3.24},{"g":22,"m":"ALASKA","t":34.2,"v":1.97},{"g":22,"m":"ALASKA","t":34.46,"v":1.12},{"g":22,"m":"ALASKA","t":34.73,"v":0.28},{"g":22,"m":"ALASKA","t":34.99,"v":-0.99},{"g":22,"m":"ALASKA","t":35.26,"v":-1.31},{"g":22,"m":"ALASKA","t":35.79,"v":-1.1},{"g":22,"m":"ALASKA","t":36.32,"v":-0.78},{"g":22,"m":"ALASKA","t":36.85,"v":-0.68},{"g":22,"m":"ALASKA","t":37.11,"v":-0.89},{"g":22,"m":"ALASKA","t":37.65,"v":-0.99},{"g":22,"m":"ALASKA","t":38.5,"v":-0.8},{"g":22,"m":"ALASKA","t":39.5,"v":-0.5},{"g":22,"m":"ALASKA","t":40,"v":-0.4},
{"g":22,"m":"ATFM","t":25,"v":0.05},{"g":22,"m":"ATFM","t":33.4,"v":0.1},{"g":22,"m":"ATFM","t":33.55,"v":2.0},{"g":22,"m":"ATFM","t":33.59,"v":5.78},{"g":22,"m":"ATFM","t":33.67,"v":8.95},{"g":22,"m":"ATFM","t":33.72,"v":8.53},{"g":22,"m":"ATFM","t":33.83,"v":6.2},{"g":22,"m":"ATFM","t":33.93,"v":4.08},{"g":22,"m":"ATFM","t":34.04,"v":3.45},{"g":22,"m":"ATFM","t":34.2,"v":4.08},{"g":22,"m":"ATFM","t":34.36,"v":3.45},{"g":22,"m":"ATFM","t":34.62,"v":2.18},{"g":22,"m":"ATFM","t":34.89,"v":0.7},{"g":22,"m":"ATFM","t":35.15,"v":-0.57},{"g":22,"m":"ATFM","t":35.42,"v":-1.84},{"g":22,"m":"ATFM","t":35.68,"v":-2.05},{"g":22,"m":"ATFM","t":35.9,"v":-2.22},{"g":22,"m":"ATFM","t":36.11,"v":-1.63},{"g":22,"m":"ATFM","t":36.32,"v":-1.3},{"g":22,"m":"ATFM","t":36.59,"v":-0.47},{"g":22,"m":"ATFM","t":37.11,"v":0.49},{"g":22,"m":"ATFM","t":37.65,"v":0.91},{"g":22,"m":"ATFM","t":38.18,"v":0.8},{"g":22,"m":"ATFM","t":38.6,"v":0.49},{"g":22,"m":"ATFM","t":38.97,"v":-0.36},{"g":22,"m":"ATFM","t":39.5,"v":-0.68},{"g":22,"m":"ATFM","t":40,"v":-0.36},
{"g":22,"m":"BOSZ","t":25,"v":0.05},{"g":22,"m":"BOSZ","t":33.25,"v":0.1},{"g":22,"m":"BOSZ","t":33.35,"v":1.5},{"g":22,"m":"BOSZ","t":33.4,"v":5.14},{"g":22,"m":"BOSZ","t":33.51,"v":8.74},{"g":22,"m":"BOSZ","t":33.56,"v":8.85},{"g":22,"m":"BOSZ","t":33.67,"v":8.32},{"g":22,"m":"BOSZ","t":33.83,"v":5.99},{"g":22,"m":"BOSZ","t":34.04,"v":4.51},{"g":22,"m":"BOSZ","t":34.3,"v":3.66},{"g":22,"m":"BOSZ","t":34.57,"v":2.6},{"g":22,"m":"BOSZ","t":34.78,"v":1.12},{"g":22,"m":"BOSZ","t":34.94,"v":-0.57},{"g":22,"m":"BOSZ","t":35.1,"v":-1.84},{"g":22,"m":"BOSZ","t":35.37,"v":-1.88},{"g":22,"m":"BOSZ","t":35.79,"v":-1.63},{"g":22,"m":"BOSZ","t":36.32,"v":-0.7},{"g":22,"m":"BOSZ","t":36.59,"v":0.0},{"g":22,"m":"BOSZ","t":36.85,"v":0.25},{"g":22,"m":"BOSZ","t":37.11,"v":0.32},{"g":22,"m":"BOSZ","t":37.65,"v":0.17},{"g":22,"m":"BOSZ","t":38.18,"v":0.11},{"g":22,"m":"BOSZ","t":38.71,"v":-0.04},{"g":22,"m":"BOSZ","t":40,"v":-0.1},
{"g":22,"m":"FUNWAVE","t":25,"v":0.05},{"g":22,"m":"FUNWAVE","t":33.35,"v":0.1},{"g":22,"m":"FUNWAVE","t":33.43,"v":0.59},{"g":22,"m":"FUNWAVE","t":33.62,"v":3.66},{"g":22,"m":"FUNWAVE","t":33.67,"v":6.41},{"g":22,"m":"FUNWAVE","t":33.75,"v":8.36},{"g":22,"m":"FUNWAVE","t":33.83,"v":7.89},{"g":22,"m":"FUNWAVE","t":34.04,"v":5.78},{"g":22,"m":"FUNWAVE","t":34.3,"v":4.08},{"g":22,"m":"FUNWAVE","t":34.57,"v":3.03},{"g":22,"m":"FUNWAVE","t":34.78,"v":1.97},{"g":22,"m":"FUNWAVE","t":34.94,"v":0.7},{"g":22,"m":"FUNWAVE","t":35.1,"v":-1.21},{"g":22,"m":"FUNWAVE","t":35.26,"v":-1.84},{"g":22,"m":"FUNWAVE","t":35.58,"v":-1.88},{"g":22,"m":"FUNWAVE","t":35.9,"v":-1.42},{"g":22,"m":"FUNWAVE","t":36.32,"v":-0.89},{"g":22,"m":"FUNWAVE","t":36.59,"v":-0.2},{"g":22,"m":"FUNWAVE","t":36.85,"v":0.17},{"g":22,"m":"FUNWAVE","t":37.11,"v":0.59},{"g":22,"m":"FUNWAVE","t":37.65,"v":0.49},{"g":22,"m":"FUNWAVE","t":38.18,"v":0.17},{"g":22,"m":"FUNWAVE","t":38.71,"v":0.02},{"g":22,"m":"FUNWAVE","t":40,"v":0.02},
{"g":22,"m":"GEOCLAW","t":25,"v":0.03},{"g":22,"m":"GEOCLAW","t":32.75,"v":0.1},{"g":22,"m":"GEOCLAW","t":32.82,"v":0.27},{"g":22,"m":"GEOCLAW","t":32.93,"v":2.39},{"g":22,"m":"GEOCLAW","t":33.03,"v":5.99},{"g":22,"m":"GEOCLAW","t":33.14,"v":7.58},{"g":22,"m":"GEOCLAW","t":33.19,"v":7.72},{"g":22,"m":"GEOCLAW","t":33.3,"v":7.26},{"g":22,"m":"GEOCLAW","t":33.46,"v":5.78},{"g":22,"m":"GEOCLAW","t":33.62,"v":4.3},{"g":22,"m":"GEOCLAW","t":33.83,"v":3.24},{"g":22,"m":"GEOCLAW","t":34.09,"v":2.39},{"g":22,"m":"GEOCLAW","t":34.36,"v":1.55},{"g":22,"m":"GEOCLAW","t":34.57,"v":0.7},{"g":22,"m":"GEOCLAW","t":34.84,"v":-0.57},{"g":22,"m":"GEOCLAW","t":35.05,"v":-1.1},{"g":22,"m":"GEOCLAW","t":35.37,"v":-1.16},{"g":22,"m":"GEOCLAW","t":35.79,"v":-1.1},{"g":22,"m":"GEOCLAW","t":36.32,"v":-0.68},{"g":22,"m":"GEOCLAW","t":36.85,"v":-0.6},{"g":22,"m":"GEOCLAW","t":37.11,"v":-0.57},{"g":22,"m":"GEOCLAW","t":37.65,"v":-0.15},{"g":22,"m":"GEOCLAW","t":38.18,"v":0.28},{"g":22,"m":"GEOCLAW","t":38.71,"v":0.49},{"g":22,"m":"GEOCLAW","t":39.24,"v":0.11},{"g":22,"m":"GEOCLAW","t":40,"v":0.02},
{"g":22,"m":"MOST","t":25,"v":0.05},{"g":22,"m":"MOST","t":33.1,"v":0.1},{"g":22,"m":"MOST","t":33.2,"v":0.8},{"g":22,"m":"MOST","t":33.24,"v":2.82},{"g":22,"m":"MOST","t":33.3,"v":4.51},{"g":22,"m":"MOST","t":33.35,"v":4.61},{"g":22,"m":"MOST","t":33.46,"v":5.57},{"g":22,"m":"MOST","t":33.59,"v":7.26},{"g":22,"m":"MOST","t":33.67,"v":6.84},{"g":22,"m":"MOST","t":33.88,"v":5.14},{"g":22,"m":"MOST","t":34.09,"v":3.66},{"g":22,"m":"MOST","t":34.36,"v":2.39},{"g":22,"m":"MOST","t":34.62,"v":1.33},{"g":22,"m":"MOST","t":34.89,"v":0.28},{"g":22,"m":"MOST","t":35.1,"v":-1.1},{"g":22,"m":"MOST","t":35.37,"v":-1.42},{"g":22,"m":"MOST","t":35.79,"v":-1.42},{"g":22,"m":"MOST","t":36.32,"v":-1.1},{"g":22,"m":"MOST","t":36.85,"v":-0.89},{"g":22,"m":"MOST","t":37.11,"v":-1.1},{"g":22,"m":"MOST","t":37.65,"v":-1.42},{"g":22,"m":"MOST","t":37.96,"v":-1.59},{"g":22,"m":"MOST","t":38.28,"v":-1.21},{"g":22,"m":"MOST","t":38.6,"v":-0.47},{"g":22,"m":"MOST","t":38.97,"v":0.06},{"g":22,"m":"MOST","t":39.4,"v":0.32},{"g":22,"m":"MOST","t":40,"v":-0.04},
{"g":22,"m":"NEOWAVE","t":25,"v":0.05},{"g":22,"m":"NEOWAVE","t":33.35,"v":0.1},{"g":22,"m":"NEOWAVE","t":33.46,"v":1.55},{"g":22,"m":"NEOWAVE","t":33.56,"v":5.78},{"g":22,"m":"NEOWAVE","t":33.64,"v":10.01},{"g":22,"m":"NEOWAVE","t":33.72,"v":11.49},{"g":22,"m":"NEOWAVE","t":33.77,"v":11.07},{"g":22,"m":"NEOWAVE","t":33.88,"v":6.84},{"g":22,"m":"NEOWAVE","t":33.99,"v":3.66},{"g":22,"m":"NEOWAVE","t":34.07,"v":3.45},{"g":22,"m":"NEOWAVE","t":34.2,"v":4.19},{"g":22,"m":"NEOWAVE","t":34.36,"v":3.24},{"g":22,"m":"NEOWAVE","t":34.57,"v":1.97},{"g":22,"m":"NEOWAVE","t":34.84,"v":1.55},{"g":22,"m":"NEOWAVE","t":35.05,"v":0.59},{"g":22,"m":"NEOWAVE","t":35.26,"v":-0.99},{"g":22,"m":"NEOWAVE","t":35.52,"v":-1.63},{"g":22,"m":"NEOWAVE","t":35.9,"v":-1.74},{"g":22,"m":"NEOWAVE","t":36.32,"v":-1.42},{"g":22,"m":"NEOWAVE","t":36.85,"v":-0.95},{"g":22,"m":"NEOWAVE","t":37.65,"v":-1.1},{"g":22,"m":"NEOWAVE","t":38.18,"v":-1.31},{"g":22,"m":"NEOWAVE","t":38.55,"v":-1.38},{"g":22,"m":"NEOWAVE","t":38.97,"v":-0.99},{"g":22,"m":"NEOWAVE","t":39.34,"v":-0.15},{"g":22,"m":"NEOWAVE","t":39.66,"v":0.17},{"g":22,"m":"NEOWAVE","t":40,"v":0.53},
{"g":22,"m":"SELFE","t":25,"v":0.1},{"g":22,"m":"SELFE","t":26.3,"v":0.15},{"g":22,"m":"SELFE","t":26.8,"v":0.35},{"g":22,"m":"SELFE","t":27.3,"v":0.2},{"g":22,"m":"SELFE","t":32.8,"v":0.15},{"g":22,"m":"SELFE","t":33.0,"v":0.6},{"g":22,"m":"SELFE","t":33.09,"v":1.33},{"g":22,"m":"SELFE","t":33.24,"v":3.03},{"g":22,"m":"SELFE","t":33.46,"v":5.14},{"g":22,"m":"SELFE","t":33.62,"v":6.62},{"g":22,"m":"SELFE","t":33.67,"v":6.52},{"g":22,"m":"SELFE","t":33.83,"v":5.78},{"g":22,"m":"SELFE","t":34.09,"v":4.51},{"g":22,"m":"SELFE","t":34.36,"v":2.82},{"g":22,"m":"SELFE","t":34.62,"v":1.55},{"g":22,"m":"SELFE","t":34.89,"v":0.28},{"g":22,"m":"SELFE","t":35.1,"v":-1.1},{"g":22,"m":"SELFE","t":35.37,"v":-1.42},{"g":22,"m":"SELFE","t":35.68,"v":-0.68},{"g":22,"m":"SELFE","t":35.9,"v":-0.78},{"g":22,"m":"SELFE","t":36.32,"v":-0.36},{"g":22,"m":"SELFE","t":36.59,"v":0.49},{"g":22,"m":"SELFE","t":37.11,"v":0.74},{"g":22,"m":"SELFE","t":37.65,"v":0.91},{"g":22,"m":"SELFE","t":38.18,"v":0.38},{"g":22,"m":"SELFE","t":38.71,"v":-0.15},{"g":22,"m":"SELFE","t":39.24,"v":-0.89},{"g":22,"m":"SELFE","t":39.66,"v":-1.14},{"g":22,"m":"SELFE","t":40,"v":-1.17},
{"g":22,"m":"Experiment data","t":25.2,"v":0.1},{"g":22,"m":"Experiment data","t":25.6,"v":0.1},{"g":22,"m":"Experiment data","t":26.0,"v":0.1},{"g":22,"m":"Experiment data","t":26.4,"v":0.1},{"g":22,"m":"Experiment data","t":26.8,"v":0.1},{"g":22,"m":"Experiment data","t":27.2,"v":0.15},{"g":22,"m":"Experiment data","t":27.6,"v":0.15},{"g":22,"m":"Experiment data","t":28.0,"v":0.15},{"g":22,"m":"Experiment data","t":28.4,"v":0.1},{"g":22,"m":"Experiment data","t":28.8,"v":0.1},{"g":22,"m":"Experiment data","t":29.2,"v":0.05},{"g":22,"m":"Experiment data","t":29.6,"v":0.05},{"g":22,"m":"Experiment data","t":30.0,"v":0.1},{"g":22,"m":"Experiment data","t":30.4,"v":0.1},{"g":22,"m":"Experiment data","t":30.8,"v":0.15},{"g":22,"m":"Experiment data","t":31.2,"v":0.1},{"g":22,"m":"Experiment data","t":31.6,"v":0.05},{"g":22,"m":"Experiment data","t":32.0,"v":0.05},{"g":22,"m":"Experiment data","t":32.4,"v":0.1},{"g":22,"m":"Experiment data","t":32.8,"v":0.28},{"g":22,"m":"Experiment data","t":33.2,"v":2.24},{"g":22,"m":"Experiment data","t":33.6,"v":7.43},{"g":22,"m":"Experiment data","t":34.0,"v":3.92},{"g":22,"m":"Experiment data","t":34.4,"v":1.33},{"g":22,"m":"Experiment data","t":34.8,"v":0.49},{"g":22,"m":"Experiment data","t":35.2,"v":-1.9},{"g":22,"m":"Experiment data","t":35.6,"v":-2.37},{"g":22,"m":"Experiment data","t":36.0,"v":-1.63},{"g":22,"m":"Experiment data","t":36.4,"v":-1.63},{"g":22,"m":"Experiment data","t":36.8,"v":-1.52},{"g":22,"m":"Experiment data","t":37.2,"v":-1.21},{"g":22,"m":"Experiment data","t":37.6,"v":-1.0},{"g":22,"m":"Experiment data","t":38.0,"v":-0.78},{"g":22,"m":"Experiment data","t":38.4,"v":-0.53},{"g":22,"m":"Experiment data","t":38.8,"v":-0.15},{"g":22,"m":"Experiment data","t":39.2,"v":-0.11},{"g":22,"m":"Experiment data","t":39.6,"v":-0.36},{"g":22,"m":"Experiment data","t":40.0,"v":-0.57}
]},
"spacing":97,
"bounds":"flush",
"resolve":{"legend":{"color":"independent","shape":"independent"}},
"vconcat":[
{"width":942,"height":252,
 "title":{"text":"BP6 \u00a0(H=0.181)","fontSize":30,"fontWeight":"normal","color":"black","anchor":"middle","frame":"group","offset":3},
 "layer":[
  {"transform":[{"filter":"datum.g === 6 && datum.m !== 'Experiment data'"}],
   "mark":{"type":"line","strokeWidth":1.3,"interpolate":"monotone"},
   "encoding":{
    "x":{"field":"t","type":"quantitative","scale":{"domain":[25,40],"nice":false,"zero":false},"axis":{"values":[25,25.5,26,26.5,27,27.5,28,28.5,29,29.5,30,30.5,31,31.5,32,32.5,33,33.5,34,34.5,35,35.5,36,36.5,37,37.5,38,38.5,39,39.5,40],"tickCount":200,"labels":false,"title":null,"grid":true,"gridOpacity":{"condition":{"test":"datum.value % 5 === 0","value":1},"value":0},"tickSize":{"condition":{"test":"datum.value % 5 === 0","value":-10},"value":-5}}},
    "y":{"field":"v","type":"quantitative","scale":{"domain":[-4,8],"nice":false,"zero":false},"axis":{"values":[-4,-3,-2,-1,0,1,2,3,4,5,6,7,8],"tickCount":200,"labelExpr":"datum.value % 2 === 0 ? toString(datum.value) : ''","labelOverlap":false,"title":null,"grid":true,"gridOpacity":{"condition":{"test":"datum.value % 2 === 0","value":1},"value":0},"tickSize":{"condition":{"test":"datum.value % 2 === 0","value":-9},"value":-5},"labelPadding":17}},
    "color":{"field":"m","type":"nominal","scale":{"domain":["ALASKA","ATFM","BOSZ","FUNWAVE","GEOCLAW","MOST","NEOWAVE","SELFE","Experiment data"],"range":["#e8231f","#d93fd9","#2b2be0","#2f8f2f","#22c4c4","#c9c424","#b0522a","#ee9a3a","#1a1a1a"]},"legend":null}}},
  {"transform":[{"filter":"datum.g === 6 && datum.m === 'Experiment data'"}],
   "mark":{"type":"point","filled":false,"size":4900,"strokeWidth":1.2,"opacity":1},
   "encoding":{
    "x":{"field":"t","type":"quantitative"},
    "y":{"field":"v","type":"quantitative"},
    "color":{"field":"m","type":"nominal","scale":{"domain":["ALASKA","ATFM","BOSZ","FUNWAVE","GEOCLAW","MOST","NEOWAVE","SELFE","Experiment data"],"range":["#e8231f","#d93fd9","#2b2be0","#2f8f2f","#22c4c4","#c9c424","#b0522a","#ee9a3a","#1a1a1a"]},"legend":null},
    "shape":{"field":"m","type":"nominal","scale":{"domain":["ALASKA","ATFM","BOSZ","FUNWAVE","GEOCLAW","MOST","NEOWAVE","SELFE","Experiment data"],"range":["stroke","stroke","stroke","stroke","stroke","stroke","stroke","stroke","M-0.2,0H0.2M0,-0.2V0.2"]},"legend":null}}},
  {"data":{"values":[{"label":"GAUGE 6"}]},
   "mark":{"type":"text","align":"left","baseline":"middle","fontSize":29,"color":"black"},
   "encoding":{"x":{"datum":25.5},"y":{"datum":7.0},"text":{"field":"label"}}}
 ]},
{"width":942,"height":252,
 "layer":[
  {"transform":[{"filter":"datum.g === 9 && datum.m !== 'Experiment data'"}],
   "mark":{"type":"line","strokeWidth":1.3,"interpolate":"monotone"},
   "encoding":{
    "x":{"field":"t","type":"quantitative","scale":{"domain":[25,40],"nice":false,"zero":false},"axis":{"values":[25,25.5,26,26.5,27,27.5,28,28.5,29,29.5,30,30.5,31,31.5,32,32.5,33,33.5,34,34.5,35,35.5,36,36.5,37,37.5,38,38.5,39,39.5,40],"tickCount":200,"labels":false,"title":null,"grid":true,"gridOpacity":{"condition":{"test":"datum.value % 5 === 0","value":1},"value":0},"tickSize":{"condition":{"test":"datum.value % 5 === 0","value":-10},"value":-5}}},
    "y":{"field":"v","type":"quantitative","scale":{"domain":[-8,8],"nice":false,"zero":false},"axis":{"values":[-8,-7,-6,-5,-4,-3,-2,-1,0,1,2,3,4,5,6,7,8],"tickCount":200,"labelExpr":"datum.value % 2 === 0 ? toString(datum.value) : ''","labelOverlap":false,"title":"η(cm)","titleFontSize":36,"titleFontWeight":"normal","titleX":-110,"titleY":284,"titleAngle":270,"titleAlign":"center","titleBaseline":"middle","grid":true,"gridOpacity":{"condition":{"test":"datum.value % 2 === 0","value":1},"value":0},"tickSize":{"condition":{"test":"datum.value % 2 === 0","value":-9},"value":-5},"labelPadding":17}},
    "color":{"field":"m","type":"nominal","scale":{"domain":["ALASKA","ATFM","BOSZ","FUNWAVE","GEOCLAW","MOST","NEOWAVE","SELFE","Experiment data"],"range":["#e8231f","#d93fd9","#2b2be0","#2f8f2f","#22c4c4","#c9c424","#b0522a","#ee9a3a","#1a1a1a"]},"legend":null}}},
  {"transform":[{"filter":"datum.g === 9 && datum.m === 'Experiment data'"}],
   "mark":{"type":"point","filled":false,"size":4900,"strokeWidth":1.2,"opacity":1},
   "encoding":{
    "x":{"field":"t","type":"quantitative"},
    "y":{"field":"v","type":"quantitative"},
    "color":{"field":"m","type":"nominal","scale":{"domain":["ALASKA","ATFM","BOSZ","FUNWAVE","GEOCLAW","MOST","NEOWAVE","SELFE","Experiment data"],"range":["#e8231f","#d93fd9","#2b2be0","#2f8f2f","#22c4c4","#c9c424","#b0522a","#ee9a3a","#1a1a1a"]},"legend":null},
    "shape":{"field":"m","type":"nominal","scale":{"domain":["ALASKA","ATFM","BOSZ","FUNWAVE","GEOCLAW","MOST","NEOWAVE","SELFE","Experiment data"],"range":["stroke","stroke","stroke","stroke","stroke","stroke","stroke","stroke","M-0.2,0H0.2M0,-0.2V0.2"]},"legend":null}}},
  {"data":{"values":[{"label":"GAUGE 9"}]},
   "mark":{"type":"text","align":"left","baseline":"middle","fontSize":29,"color":"black"},
   "encoding":{"x":{"datum":25.5},"y":{"datum":7.1},"text":{"field":"label"}}}
 ]},
{"width":942,"height":252,
 "layer":[
  {"transform":[{"filter":"datum.g === 16 && datum.m !== 'Experiment data'"}],
   "mark":{"type":"line","strokeWidth":1.3,"interpolate":"monotone"},
   "encoding":{
    "x":{"field":"t","type":"quantitative","scale":{"domain":[25,40],"nice":false,"zero":false},"axis":{"values":[25,25.5,26,26.5,27,27.5,28,28.5,29,29.5,30,30.5,31,31.5,32,32.5,33,33.5,34,34.5,35,35.5,36,36.5,37,37.5,38,38.5,39,39.5,40],"tickCount":200,"labels":false,"title":null,"grid":true,"gridOpacity":{"condition":{"test":"datum.value % 5 === 0","value":1},"value":0},"tickSize":{"condition":{"test":"datum.value % 5 === 0","value":-10},"value":-5}}},
    "y":{"field":"v","type":"quantitative","scale":{"domain":[-4,8],"nice":false,"zero":false},"axis":{"values":[-4,-3,-2,-1,0,1,2,3,4,5,6,7,8],"tickCount":200,"labelExpr":"datum.value % 2 === 0 ? toString(datum.value) : ''","labelOverlap":false,"title":null,"grid":true,"gridOpacity":{"condition":{"test":"datum.value % 2 === 0","value":1},"value":0},"tickSize":{"condition":{"test":"datum.value % 2 === 0","value":-9},"value":-5},"labelPadding":17}},
    "color":{"field":"m","type":"nominal","scale":{"domain":["ALASKA","ATFM","BOSZ","FUNWAVE","GEOCLAW","MOST","NEOWAVE","SELFE","Experiment data"],"range":["#e8231f","#d93fd9","#2b2be0","#2f8f2f","#22c4c4","#c9c424","#b0522a","#ee9a3a","#1a1a1a"]},
     "legend":{"orient":"none","legendX":648,"legendY":-169,"title":null,"fillColor":"white","strokeColor":"black","padding":6,"symbolSize":4225,"symbolStrokeWidth":1.2,"clipHeight":26,"rowPadding":5.4,"labelFontSize":23,"labelColor":"black","symbolOffset":6,"labelOffset":4,"labelLimit":400}}}},
  {"transform":[{"filter":"datum.g === 16 && datum.m === 'Experiment data'"}],
   "mark":{"type":"point","filled":false,"size":4900,"strokeWidth":1.2,"opacity":1},
   "encoding":{
    "x":{"field":"t","type":"quantitative"},
    "y":{"field":"v","type":"quantitative"},
    "color":{"field":"m","type":"nominal","scale":{"domain":["ALASKA","ATFM","BOSZ","FUNWAVE","GEOCLAW","MOST","NEOWAVE","SELFE","Experiment data"],"range":["#e8231f","#d93fd9","#2b2be0","#2f8f2f","#22c4c4","#c9c424","#b0522a","#ee9a3a","#1a1a1a"]},
     "legend":{"orient":"none","legendX":648,"legendY":-169,"title":null,"fillColor":"white","strokeColor":"black","padding":6,"symbolSize":4225,"symbolStrokeWidth":1.2,"clipHeight":26,"rowPadding":5.4,"labelFontSize":23,"labelColor":"black","symbolOffset":6,"labelOffset":4,"labelLimit":400}},
    "shape":{"field":"m","type":"nominal","scale":{"domain":["ALASKA","ATFM","BOSZ","FUNWAVE","GEOCLAW","MOST","NEOWAVE","SELFE","Experiment data"],"range":["stroke","stroke","stroke","stroke","stroke","stroke","stroke","stroke","M-0.2,0H0.2M0,-0.2V0.2"]},
     "legend":{"orient":"none","legendX":648,"legendY":-169,"title":null,"fillColor":"white","strokeColor":"black","padding":6,"symbolSize":4225,"symbolStrokeWidth":1.2,"clipHeight":26,"rowPadding":5.4,"labelFontSize":23,"labelColor":"black","symbolOffset":6,"labelOffset":4,"labelLimit":400}}}},
  {"data":{"values":[{"label":"GAUGE 16"}]},
   "mark":{"type":"text","align":"left","baseline":"middle","fontSize":29,"color":"black"},
   "encoding":{"x":{"datum":25.5},"y":{"datum":7.05},"text":{"field":"label"}}}
 ]},
{"width":942,"height":252,
 "layer":[
  {"transform":[{"filter":"datum.g === 22 && datum.m !== 'Experiment data'"}],
   "mark":{"type":"line","strokeWidth":1.3,"interpolate":"monotone"},
   "encoding":{
    "x":{"field":"t","type":"quantitative","scale":{"domain":[25,40],"nice":false,"zero":false},"axis":{"values":[25,25.5,26,26.5,27,27.5,28,28.5,29,29.5,30,30.5,31,31.5,32,32.5,33,33.5,34,34.5,35,35.5,36,36.5,37,37.5,38,38.5,39,39.5,40],"tickCount":200,"labelExpr":"datum.value % 5 === 0 ? toString(datum.value) : ''","labelOverlap":false,"title":"t (sec)","titleFontSize":36,"titleFontWeight":"normal","titlePadding":10,"grid":true,"gridOpacity":{"condition":{"test":"datum.value % 5 === 0","value":1},"value":0},"tickSize":{"condition":{"test":"datum.value % 5 === 0","value":-10},"value":-5},"labelPadding":18}},
    "y":{"field":"v","type":"quantitative","scale":{"domain":[-4,12],"nice":false,"zero":false},"axis":{"values":[-4,-3,-2,-1,0,1,2,3,4,5,6,7,8,9,10,11,12],"tickCount":200,"labelExpr":"datum.value % 2 === 0 ? toString(datum.value) : ''","labelOverlap":false,"title":null,"grid":true,"gridOpacity":{"condition":{"test":"datum.value % 2 === 0","value":1},"value":0},"tickSize":{"condition":{"test":"datum.value % 2 === 0","value":-9},"value":-5},"labelPadding":17}},
    "color":{"field":"m","type":"nominal","scale":{"domain":["ALASKA","ATFM","BOSZ","FUNWAVE","GEOCLAW","MOST","NEOWAVE","SELFE","Experiment data"],"range":["#e8231f","#d93fd9","#2b2be0","#2f8f2f","#22c4c4","#c9c424","#b0522a","#ee9a3a","#1a1a1a"]},"legend":null}}},
  {"transform":[{"filter":"datum.g === 22 && datum.m === 'Experiment data'"}],
   "mark":{"type":"point","filled":false,"size":4900,"strokeWidth":1.2,"opacity":1},
   "encoding":{
    "x":{"field":"t","type":"quantitative"},
    "y":{"field":"v","type":"quantitative"},
    "color":{"field":"m","type":"nominal","scale":{"domain":["ALASKA","ATFM","BOSZ","FUNWAVE","GEOCLAW","MOST","NEOWAVE","SELFE","Experiment data"],"range":["#e8231f","#d93fd9","#2b2be0","#2f8f2f","#22c4c4","#c9c424","#b0522a","#ee9a3a","#1a1a1a"]},"legend":null},
    "shape":{"field":"m","type":"nominal","scale":{"domain":["ALASKA","ATFM","BOSZ","FUNWAVE","GEOCLAW","MOST","NEOWAVE","SELFE","Experiment data"],"range":["stroke","stroke","stroke","stroke","stroke","stroke","stroke","stroke","M-0.2,0H0.2M0,-0.2V0.2"]},"legend":null}}},
  {"data":{"values":[{"label":"GAUGE 22"}]},
   "mark":{"type":"text","align":"left","baseline":"middle","fontSize":29,"color":"black"},
   "encoding":{"x":{"datum":25.5},"y":{"datum":10.6},"text":{"field":"label"}}}
 ]}
],
"config":{
 "font":"Liberation Sans",
 "view":{"fill":"white","stroke":null},
 "axis":{"labelFont":"Liberation Sans","labelColor":"black","labelFontSize":26,"titleFont":"Liberation Sans","titleColor":"black","titleFontWeight":"normal","domainColor":"#444","tickColor":"#444","gridColor":"#c8c8c8","gridWidth":1,"labelFlush":false,"labelOverlap":false},
 "legend":{"labelFont":"Liberation Sans"},
 "title":{"font":"Liberation Sans"}
}
}
